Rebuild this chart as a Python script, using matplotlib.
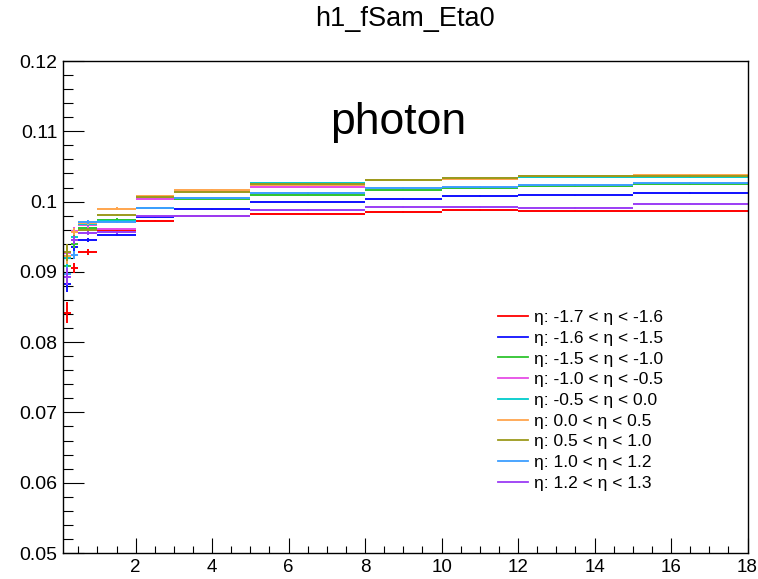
import matplotlib
matplotlib.use("Agg")
import matplotlib.pyplot as plt
from matplotlib.lines import Line2D
from matplotlib.ticker import MultipleLocator, FormatStrFormatter
import numpy as np

plt.rcParams['font.family'] = ['Liberation Sans', 'DejaVu Sans']

# energy bin edges
edges = [0.1, 0.3, 0.5, 1.0, 2.0, 3.0, 5.0, 8.0, 10.0, 12.0, 15.0, 18.0]

labels = [
    "\u03b7: -1.7 < \u03b7 < -1.6",
    "\u03b7: -1.6 < \u03b7 < -1.5",
    "\u03b7: -1.5 < \u03b7 < -1.0",
    "\u03b7: -1.0 < \u03b7 < -0.5",
    "\u03b7: -0.5 < \u03b7 < 0.0",
    "\u03b7: 0.0 < \u03b7 < 0.5",
    "\u03b7: 0.5 < \u03b7 < 1.0",
    "\u03b7: 1.0 < \u03b7 < 1.2",
    "\u03b7: 1.2 < \u03b7 < 1.3",
]
colors = ['#ff0000', '#1010ff', '#2ec42e', '#e64de6', '#00cccc',
          '#ffa54d', '#9c9a1c', '#3d9eff', '#9b3cf5']

eta_m17 = [0.0842, 0.0905, 0.0928, 0.0960, 0.0973, 0.0979, 0.0983, 0.0985, 0.0988, 0.0987, 0.0986]
eta_m16 = [0.0883, 0.0935, 0.0945, 0.0953, 0.0978, 0.0989, 0.0999, 0.1004, 0.1008, 0.1009, 0.1012]
eta_m15 = [0.0909, 0.0940, 0.0962, 0.0974, 0.1005, 0.1004, 0.1010, 0.1017, 0.1019, 0.1022, 0.1025]
eta_m10 = [0.0927, 0.0958, 0.0966, 0.0961, 0.1003, 0.1015, 0.1021, 0.1030, 0.1032, 0.1035, 0.1036]
eta_m05 = [0.0920, 0.0950, 0.0968, 0.0972, 0.0991, 0.1005, 0.1026, 0.1031, 0.1033, 0.1035, 0.1035]
eta_p00 = [0.0923, 0.0957, 0.0969, 0.0990, 0.1008, 0.1017, 0.1024, 0.1031, 0.1032, 0.1036, 0.1038]
eta_p05 = [0.0928, 0.0946, 0.0959, 0.0981, 0.1006, 0.1013, 0.1025, 0.1031, 0.1033, 0.1036, 0.1037]
eta_p10 = [0.0897, 0.0924, 0.0971, 0.0971, 0.0991, 0.1005, 0.1012, 0.1020, 0.1021, 0.1024, 0.1027]
eta_p12 = [0.0893, 0.0945, 0.0955, 0.0956, 0.0979, 0.0980, 0.0988, 0.0992, 0.0992, 0.0991, 0.0997]

errs = [0.0012, 0.0006, 0.0003, 0.0002, 0.0001, 0.0001, 0.0001, 0.0001, 0.0001, 0.0001, 0.0001]
red_errs = [0.0015, 0.0007, 0.0004, 0.0002, 0.0001, 0.0001, 0.0001, 0.0001, 0.0001, 0.0001, 0.0001]

series = [eta_m17, eta_m16, eta_m15, eta_m10, eta_m05, eta_p00, eta_p05, eta_p10, eta_p12]

fig = plt.figure(figsize=(7.58, 5.79), dpi=100)
ax = fig.add_axes([63 / 758, 26 / 579, 684.5 / 758, 492 / 579])

lo = np.array(edges[:-1])
hi = np.array(edges[1:])
centers = (lo + hi) / 2
halfw = (hi - lo) / 2

for i, vals in enumerate(series):
    e = red_errs if i == 0 else errs
    ax.errorbar(centers, vals, xerr=halfw, yerr=e, fmt='none',
                ecolor=colors[i], elinewidth=1.4, capsize=0)

ax.set_xlim(0.1, 18)
ax.set_ylim(0.05, 0.12)

ax.xaxis.set_major_locator(MultipleLocator(2))
ax.xaxis.set_minor_locator(MultipleLocator(0.5))
ax.yaxis.set_major_locator(MultipleLocator(0.01))
ax.yaxis.set_minor_locator(MultipleLocator(0.002))
ax.yaxis.set_major_formatter(FormatStrFormatter('%g'))

ax.tick_params(axis='both', which='both', direction='in', top=False, right=False,
               width=0.8, labelsize=14)
ax.tick_params(axis='y', which='major', length=15, pad=4)
ax.tick_params(axis='y', which='minor', length=7.5)
ax.tick_params(axis='x', which='major', length=10.6, pad=4, labelsize=13.5)
ax.tick_params(axis='x', which='minor', length=5.3)
for sp in ax.spines.values():
    sp.set_linewidth(1.0)

ax.text(0.49, 0.875, "photon", transform=ax.transAxes, fontsize=32,
        ha='center', va='center')

fig.text(405 / 758, 1 - 19 / 579, "h1_fSam_Eta0", ha='center', va='center', fontsize=19.5)

handles = [Line2D([], [], color=c, lw=1.3) for c in colors]
ax.legend(handles, labels, loc='upper left', bbox_to_anchor=(498 / 758, 1 - 310 / 579),
          bbox_transform=fig.transFigure, frameon=False, fontsize=12.5,
          handlelength=1.75, handletextpad=0.3, labelspacing=0.32,
          borderpad=0, borderaxespad=0)

fig.savefig("out.png", dpi=100)
